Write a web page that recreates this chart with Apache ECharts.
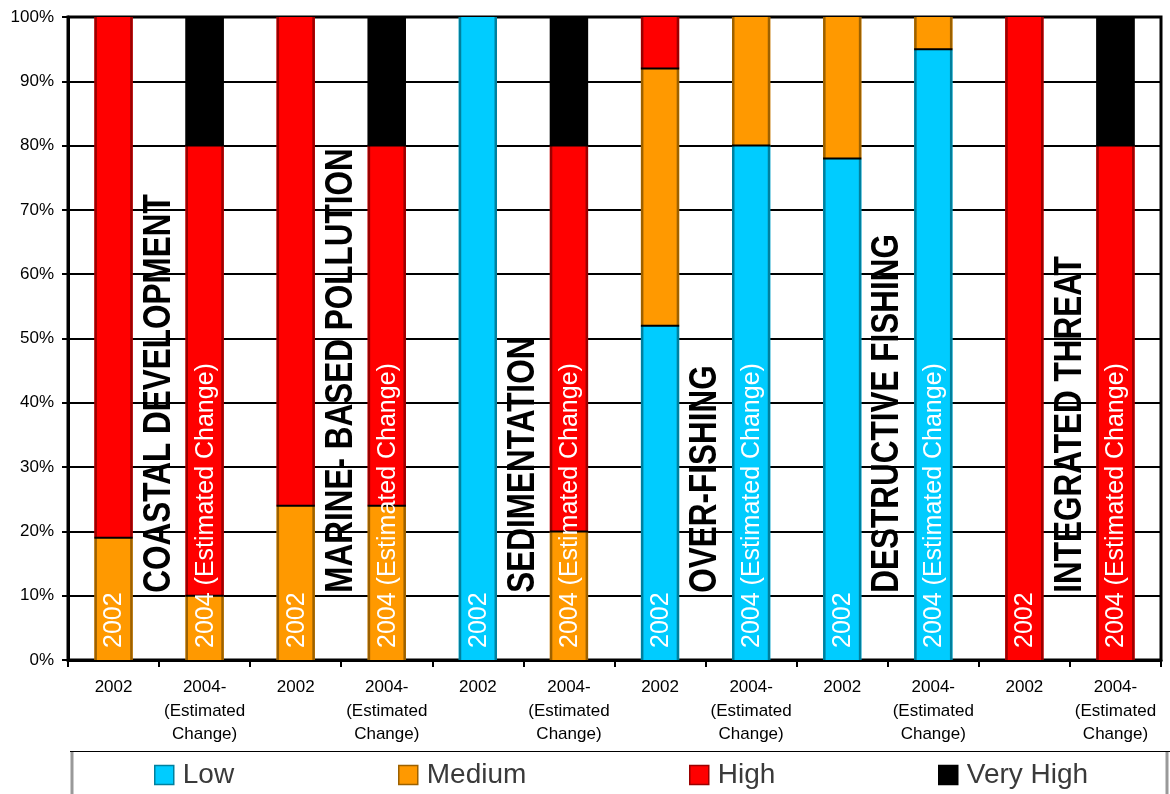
<!DOCTYPE html>
<html>
<head>
<meta charset="utf-8">
<script src="https://cdn.jsdelivr.net/npm/echarts@6/dist/echarts.min.js"></script>
<style>
  html, body { margin: 0; padding: 0; background: #fff; }
  #chart { width: 1170px; height: 794px; }
</style>
</head>
<body>
<div id="chart"></div>
<script>
// Axis categories: each threat has a 2002 bar and a 2004 estimate bar
const categories = [
  '2002', '2004-\n(Estimated\nChange)',
  '2002', '2004-\n(Estimated\nChange)',
  '2002', '2004-\n(Estimated\nChange)',
  '2002', '2004-\n(Estimated\nChange)',
  '2002', '2004-\n(Estimated\nChange)',
  '2002', '2004-\n(Estimated\nChange)'
];

// Text written inside each bar
const barYears = [
  '2002', '2004 (Estimated Change)',
  '2002', '2004 (Estimated Change)',
  '2002', '2004 (Estimated Change)',
  '2002', '2004 (Estimated Change)',
  '2002', '2004 (Estimated Change)',
  '2002', '2004 (Estimated Change)'
];

// Threat names, one per pair of bars
const threats = [
  'COASTAL DEVELOPMENT',
  'MARINE- BASED POLLUTION',
  'SEDIMENTATION',
  'OVER-FISHING',
  'DESTRUCTIVE FISHING',
  'INTEGRATED THREAT'
];

// Share of reefs (%) at each threat level
const low      = [0,  0,  0,  0, 100,  0, 52, 80, 78, 95,   0,  0];
const medium   = [19, 10, 24, 24,  0, 20, 40, 20, 22,  5,   0,  0];
const high     = [81, 70, 76, 56,  0, 60,  8,  0,  0,  0, 100, 80];
const veryHigh = [0,  20,  0, 20,  0, 20,  0,  0,  0,  0,   0, 20];

const FONT = '"Liberation Sans", Arial, sans-serif';

const levels = [
  { name: 'Low',       values: low,      fill: '#00CCFF', edge: '#00809E' },
  { name: 'Medium',    values: medium,   fill: '#FF9900', edge: '#9C6100' },
  { name: 'High',      values: high,     fill: '#FF0000', edge: '#9A0000' },
  { name: 'Very High', values: veryHigh, fill: '#000000', edge: '#000000' }
];

// Build stacked [category, start, end] triples for each level
const base = categories.map(() => 0);
const stacked = levels.map(lv => {
  const rows = lv.values.map((v, i) => {
    const row = [i, base[i], base[i] + v];
    base[i] += v;
    return row;
  });
  return rows;
});

function segmentRenderer(fill, edge) {
  return function (params, api) {
    const start = api.value(1), end = api.value(2);
    if (end - start <= 0) return null;
    const cat = api.value(0);
    const b = api.coord([cat, start]);
    const t = api.coord([cat, end]);
    const bw = api.size([1, 0])[0] * 0.42;
    const x0 = b[0] - bw / 2;
    const h = b[1] - t[1];
    const children = [
      { type: 'rect', shape: { x: x0, y: t[1], width: bw, height: h }, style: { fill: fill } },
      { type: 'rect', shape: { x: x0, y: t[1], width: 2.5, height: h }, style: { fill: edge } },
      { type: 'rect', shape: { x: x0 + bw - 2.5, y: t[1], width: 2.5, height: h }, style: { fill: edge } }
    ];
    if (start > 0) {
      children.push({ type: 'rect', shape: { x: x0, y: b[1] - 1, width: bw, height: 2 }, style: { fill: '#000' } });
    }
    return { type: 'group', children: children };
  };
}

const barSeries = levels.map((lv, k) => ({
  name: lv.name,
  type: 'custom',
  z: 2 + k,
  itemStyle: { color: lv.fill, borderColor: lv.edge },
  encode: { x: 0, y: [1, 2] },
  data: stacked[k],
  renderItem: segmentRenderer(lv.fill, lv.edge)
}));

// White year text inside the bars
const yearSeries = {
  type: 'custom',
  z: 10,
  silent: true,
  encode: { x: 0, y: 1 },
  data: categories.map((c, i) => [i, 0]),
  renderItem: function (params, api) {
    const p = api.coord([api.value(0), 0]);
    return {
      type: 'text',
      x: p[0] + 1,
      y: p[1] - 12,
      rotation: Math.PI / 2,
      style: {
        text: barYears[params.dataIndex],
        fill: '#fff',
        font: '25px ' + FONT,
        align: 'left',
        verticalAlign: 'middle'
      }
    };
  }
};

// Bold threat names standing between each pair of bars
const threatSeries = {
  type: 'custom',
  z: 10,
  silent: true,
  encode: { x: 0, y: 1 },
  data: threats.map((t, k) => [2 * k, 10]),
  renderItem: function (params, api) {
    const p = api.coord([api.value(0), api.value(1)]);
    const half = api.size([1, 0])[0] / 2;
    return {
      type: 'text',
      x: p[0] + half,
      y: p[1] - 3,
      rotation: Math.PI / 2,
      scaleY: 1.22,
      style: {
        text: threats[params.dataIndex],
        fill: '#000',
        font: 'bold 31.5px ' + FONT,
        align: 'left',
        verticalAlign: 'middle'
      }
    };
  }
};

const legendX = [154, 398, 689, 938];

const chart = echarts.init(document.getElementById('chart'), null, { renderer: 'canvas' });
chart.setOption({
  animation: false,
  backgroundColor: '#fff',
  grid: {
    left: 68, right: 9, top: 17, bottom: 134,
    show: true, borderColor: '#000', borderWidth: 3, backgroundColor: 'transparent'
  },
  xAxis: {
    type: 'category',
    data: categories,
    boundaryGap: true,
    axisLine: { lineStyle: { color: '#000', width: 3 } },
    axisTick: { show: true, length: 7, lineStyle: { color: '#000', width: 2 } },
    axisLabel: {
      interval: 0, margin: 16, color: '#000',
      fontSize: 17, lineHeight: 23.5, fontFamily: FONT
    },
    splitLine: { show: false }
  },
  yAxis: {
    type: 'value',
    min: 0, max: 100, interval: 10,
    axisLine: { show: true, lineStyle: { color: '#000', width: 3 } },
    axisTick: { show: true, length: 6, lineStyle: { color: '#000', width: 2 } },
    axisLabel: { formatter: '{value}%', margin: 14, color: '#000', fontSize: 17, fontFamily: FONT },
    splitLine: { show: true, lineStyle: { color: '#000', width: 2 } }
  },
  legend: levels.map((lv, i) => ({
    data: [lv.name],
    left: legendX[i],
    top: 761,
    padding: 0,
    itemGap: 0,
    itemWidth: 19,
    itemHeight: 19,
    icon: 'rect',
    selectedMode: false,
    itemStyle: { borderColor: lv.edge, borderWidth: 1.5 },
    textStyle: { fontSize: 28, color: '#3a3a3a', fontFamily: FONT, padding: [0, 0, 0, 4] }
  })),
  graphic: [
    { type: 'line', shape: { x1: 70, y1: 751.5, x2: 1170, y2: 751.5 }, style: { stroke: '#000', lineWidth: 1 } },
    { type: 'line', shape: { x1: 72, y1: 752, x2: 72, y2: 794 }, style: { stroke: '#999', lineWidth: 3 } },
    { type: 'line', shape: { x1: 1167, y1: 752, x2: 1167, y2: 794 }, style: { stroke: '#999', lineWidth: 3 } }
  ],
  series: barSeries.concat([yearSeries, threatSeries])
});
</script>
</body>
</html>
